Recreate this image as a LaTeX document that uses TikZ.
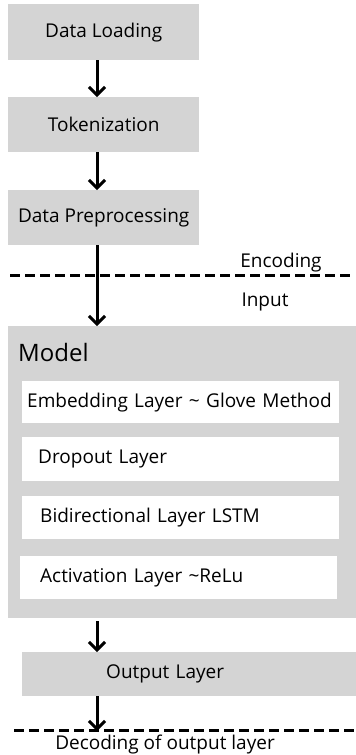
\documentclass[tikz,border=0pt]{standalone}
\usepackage{fontspec}
\setmainfont{Open Sans}
\usetikzlibrary{arrows.meta}
\definecolor{boxgray}{RGB}{212,212,212}
\begin{document}
\begin{tikzpicture}[x=1pt,y=-1pt,
  txt/.style={font=\fontsize{19}{22}\selectfont},
  graybox/.style={txt, fill=boxgray, draw=none, inner ysep=0pt, anchor=north west, align=center},
  whitebox/.style={txt, fill=white, draw=none, inner ysep=0pt, anchor=north west, align=left},
  arr/.style={line width=3pt, -{Straight Barb[length=8pt,width=16pt,line width=3pt]}},
  sep/.style={line width=3pt, dash pattern=on 10pt off 5pt},
]
\useasboundingbox (0,0) rectangle (356,755);
\fill[white] (0,0) rectangle (356,755);

\node[graybox, minimum width=191pt, minimum height=56pt, inner xsep=0pt] (dl) at (8,4) {Data Loading};
\node[graybox, minimum width=191pt, minimum height=55pt, inner xsep=0pt] (tok) at (8,97) {Tokenization};
\node[graybox, minimum width=191pt, minimum height=55pt, inner xsep=0pt] (dp) at (8,190) {Data Preprocessing};

\node[fill=boxgray, anchor=north west, minimum width=348pt, minimum height=292pt, inner sep=0pt] (model) at (8,326) {};
\node[txt, font=\fontsize{24}{28}\selectfont, anchor=west, inner sep=0pt] (mlabel) at (18,352) {Model};

\node[whitebox, minimum width=317pt, minimum height=42pt, text width=307pt, inner xsep=5pt] (emb) at (22,381) {Embedding Layer \char`~{} Glove Method};
\node[whitebox, minimum width=317pt, minimum height=44pt, text width=285pt, inner xsep=16pt] (drop) at (22,437) {Dropout Layer};
\node[whitebox, minimum width=317pt, minimum height=43pt, text width=281pt, inner xsep=18pt] (bi) at (22,496) {Bidirectional Layer LSTM};
\node[whitebox, minimum width=317pt, minimum height=43pt, text width=277pt, inner xsep=20pt] (act) at (20,556) {Activation Layer \char`~ReLu};

\node[graybox, minimum width=317pt, minimum height=44pt, align=left, text width=233pt, inner xsep=84pt] (out) at (22,652) {Output Layer};

\coordinate (ax) at (97,0);
\coordinate (e1) at (10,275);
\coordinate (e2) at (350,275);
\coordinate (d1) at (14,730);
\coordinate (d2) at (356,730);
\coordinate (dend) at (97,731);

\draw[sep] (e1) -- (e2);
\draw[sep] (d1) -- (d2);

\node[txt, inner sep=0pt] (enc) at (281,263) {Encoding};
\node[txt, inner sep=0pt] (inp) at (265,302) {Input};
\node[txt, inner sep=0pt] (dec) at (165,745) {Decoding of output layer};

\draw[arr] (dl.south -| ax) -- (tok.north -| ax);
\draw[arr] (tok.south -| ax) -- (dp.north -| ax);
\draw[arr] (dp.south -| ax) -- (model.north -| ax);
\draw[arr] ([yshift=-3pt]model.south -| ax) -- (out.north -| ax);
\draw[arr] (out.south -| ax) -- (dend);
\end{tikzpicture}
\end{document}
